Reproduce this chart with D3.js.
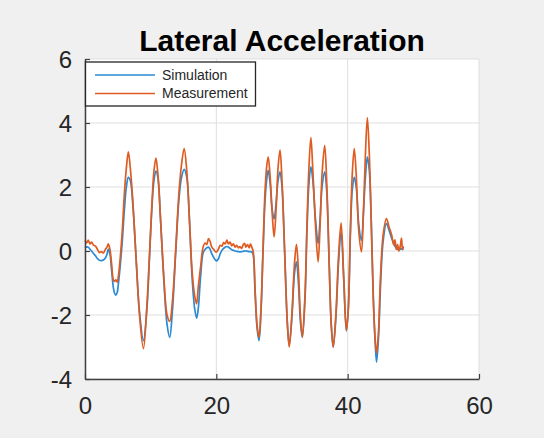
<!DOCTYPE html>
<html>
<head>
<meta charset="utf-8">
<script src="https://cdn.jsdelivr.net/npm/d3@7.9.0/dist/d3.min.js"></script>
<style>
  html, body { margin: 0; padding: 0; background: #f0f0f0; }
  svg { display: block; font-family: "Liberation Sans", Arial, sans-serif; }
</style>
</head>
<body>
<svg id="chart"></svg>
<script>
// time stamps (s) shared by both series
const timeS = [
  0, 0.25, 0.5, 0.75, 1.0, 1.3, 1.6, 1.9, 2.2, 2.5, 2.8, 3.1, 3.35, 3.55, 3.8, 4.05, 4.3, 4.5, 4.7, 4.9, 5.07,
  5.6, 6.0, 6.3, 6.6, 6.9, 7.3, 7.8, 8.3, 8.9, 9.4, 9.8, 10.2, 10.5, 10.8, 11.1, 11.5, 12.0, 12.5, 12.9, 13.3,
  13.8, 14.3, 14.7, 15.1, 15.5, 15.9, 16.3, 16.7, 17.0, 17.25, 17.6,
  18.0, 18.3, 18.55, 18.8, 19.05, 19.3, 19.6, 19.85, 20.05, 20.3, 20.6, 20.85, 21.1, 21.35, 21.6, 21.85, 22.1,
  22.35, 22.6, 22.85, 23.1, 23.35, 23.6, 23.85, 24.1, 24.3, 24.5, 24.75, 25.0, 25.2, 25.4,
  25.6, 25.9, 26.2, 26.5, 26.8, 27.1, 27.4, 27.65, 27.9, 28.2, 28.5, 28.8, 29.1, 29.4, 29.7, 30.0, 30.4, 30.8,
  31.1, 31.5, 31.9, 32.2, 32.5, 32.8, 33.1, 33.5, 33.8, 34.1, 34.4, 34.7, 35.1, 35.5, 35.8, 36.1, 36.5, 36.8,
  37.2, 37.5, 37.8, 38.2, 38.6, 39.0, 39.4, 39.8, 40.1, 40.4, 40.7, 41.0, 41.3, 41.7, 42.1, 42.4, 42.7, 43.0,
  43.3, 43.6, 43.9, 44.2, 44.4, 44.7, 45.0, 45.4, 45.9, 46.3, 46.7, 47.0, 47.2, 47.4, 47.6, 47.8, 48.0, 48.2,
  48.35, 48.5
];

const simulation = [
  0.10, 0.13, 0.12, 0.06, 0.0, -0.08, -0.15, -0.24, -0.29, -0.30, -0.28, -0.22, -0.1, 0.06, -0.1, -0.6, -1.12, -1.32, -1.38, -1.3, -1.05,
  0.1, 1.3, 2.0, 2.3, 2.2, 1.4, -0.3, -1.9, -2.8, -1.9, -0.3, 1.4, 2.2, 2.5, 2.3, 1.0, -0.9, -2.3, -2.7, -1.9,
  -0.1, 1.6, 2.3, 2.55, 2.3, 1.0, -0.8, -1.8, -2.1, -1.8, -0.8,
  -0.05, 0.05, 0.1, 0.12, 0.05, -0.08, -0.2, -0.28, -0.31, -0.25, -0.08, 0.02, 0.08, 0.12, 0.14, 0.12, 0.08,
  0.04, 0.02, 0.0, -0.01, -0.02, -0.03, -0.02, -0.01, 0.0, 0.0, -0.01, -0.02, -0.02, -0.03,
  -0.1, -1.3, -2.4, -2.8, -1.9, -0.1, 1.5, 2.2, 2.52, 2.1, 1.3, 1.0, 1.5, 2.2, 2.47, 2.0, 0.0, -2.2,
  -2.95, -2.1, -0.7, -0.34, -1.0, -2.2, -2.7, -1.5, 0.6, 2.1, 2.63, 2.2, 1.0, 0.24, 1.0, 2.0, 2.47, 1.9,
  -0.5, -2.3, -3.0, -2.1, -0.4, 0.6, -0.9, -2.5, -1.8, 0.4, 1.9, 2.31, 2.0, 0.8, 0.33, 1.2, 2.3, 2.94,
  2.5, 0.9, -1.4, -2.9, -3.47, -2.7, -1.1, 0.3, 0.86, 0.65, 0.4, 0.25, 0.15, 0.1, 0.05, 0.05, 0.05, 0.08,
  0.05, 0.05
];

const measurement = [
  0.33, 0.25, 0.34, 0.22, 0.28, 0.18, 0.15, 0.05, -0.05, -0.02, -0.06, 0.05, 0.12, 0.22, 0.05, -0.4, -0.88, -0.95, -0.9, -0.97, -0.81,
  0.4, 1.8, 2.6, 3.1, 2.6, 1.5, -0.3, -2.0, -3.05, -1.8, -0.2, 1.5, 2.5, 2.9, 2.4, 1.0, -0.8, -2.0, -2.2, -1.6,
  0.0, 1.8, 2.7, 3.2, 2.5, 1.0, -0.6, -1.4, -1.65, -1.12, -0.5,
  0.13, 0.25, 0.2, 0.39, 0.3, 0.12, 0.05, -0.02, -0.03, 0.05, 0.18, 0.15, 0.26, 0.22, 0.34, 0.22, 0.28,
  0.16, 0.22, 0.12, 0.18, 0.1, 0.14, 0.08, 0.2, 0.24, 0.12, 0.2, 0.1, 0.22, 0.12,
  0.0, -1.2, -2.3, -2.7, -1.8, 0.0, 1.8, 2.6, 2.94, 2.3, 1.2, 0.44, 1.3, 2.6, 3.15, 2.2, 0.0, -2.2,
  -3.0, -2.0, -0.4, 0.21, -0.6, -2.0, -2.69, -1.4, 0.8, 2.6, 3.54, 2.5, 0.8, -0.34, 0.8, 2.4, 3.3, 2.2,
  -0.5, -2.3, -3.0, -2.0, -0.2, 0.88, -0.8, -2.48, -1.8, 0.6, 2.4, 3.2, 2.4, 0.6, -0.03, 1.2, 3.0, 4.17,
  3.0, 0.8, -1.5, -2.8, -3.2, -2.5, -0.8, 0.5, 1.01, 0.75, 0.5, 0.2, 0.35, 0.05, 0.2, 0.0, 0.15, 0.4,
  0.05, 0.15
];

const xTicks = [0, 20, 40, 60];
const yTicks = [-4, -2, 0, 2, 4, 6];
const seriesNames = ['Simulation', 'Measurement'];
const seriesColors = ['#2a8ad4', '#de5c22'];

const width = 544;
const height = 438;
const plot = { left: 85, right: 479, top: 59, bottom: 379 };

const svg = d3.select('#chart')
    .attr('width', width)
    .attr('height', height);

svg.append('rect')
    .attr('width', width)
    .attr('height', height)
    .attr('fill', '#f0f0f0');

const x = d3.scaleLinear().domain([0, 60]).range([plot.left, plot.right]);
const y = d3.scaleLinear().domain([-4, 6]).range([plot.bottom, plot.top]);

// plot background
svg.append('rect')
    .attr('x', plot.left)
    .attr('y', plot.top)
    .attr('width', plot.right - plot.left)
    .attr('height', plot.bottom - plot.top)
    .attr('fill', 'white');

// grid
svg.append('g')
    .selectAll('line')
    .data(xTicks)
    .join('line')
    .attr('x1', d => x(d)).attr('x2', d => x(d))
    .attr('y1', plot.top).attr('y2', plot.bottom)
    .attr('stroke', '#dfdfdf')
    .attr('stroke-width', 1);

svg.append('g')
    .selectAll('line')
    .data(yTicks)
    .join('line')
    .attr('x1', plot.left).attr('x2', plot.right)
    .attr('y1', d => y(d)).attr('y2', d => y(d))
    .attr('stroke', '#dfdfdf')
    .attr('stroke-width', 1);

// the two series
const line = d3.line()
    .x(d => x(d[0]))
    .y(d => y(d[1]))
    .curve(d3.curveCatmullRom.alpha(0.5));

[simulation, measurement].forEach((vals, i) => {
    svg.append('path')
        .datum(timeS.map((t, j) => [t, vals[j]]))
        .attr('d', line)
        .attr('fill', 'none')
        .attr('stroke', seriesColors[i])
        .attr('stroke-width', 1.7)
        .attr('stroke-linejoin', 'round');
});

// axes: MATLAB style, inward ticks, plain hyphen for negatives
const fmt = d => String(d);
const xAxis = svg.append('g')
    .attr('transform', `translate(0, ${plot.bottom})`)
    .call(d3.axisBottom(x).tickValues(xTicks).tickFormat(fmt).tickSize(-5).tickSizeOuter(0).tickPadding(13));
const yAxis = svg.append('g')
    .attr('transform', `translate(${plot.left}, 0)`)
    .call(d3.axisLeft(y).tickValues(yTicks).tickFormat(fmt).tickSize(-5).tickSizeOuter(0).tickPadding(13));

[xAxis, yAxis].forEach(g => {
    g.select('.domain').attr('stroke', '#404040').attr('stroke-width', 1.5);
    g.selectAll('.tick line').attr('stroke', '#404040').attr('stroke-width', 1.2);
    g.selectAll('.tick text')
        .attr('fill', '#262626')
        .style('font-size', '24px')
        .style('font-family', '"Liberation Sans", Arial, sans-serif');
});
xAxis.selectAll('.tick text').attr('dy', '0.9em');
yAxis.selectAll('.tick text').attr('dy', '0.35em');

// title
svg.append('text')
    .attr('x', (plot.left + plot.right) / 2)
    .attr('y', 51)
    .attr('text-anchor', 'middle')
    .attr('font-weight', 'bold')
    .attr('font-size', 30)
    .attr('fill', '#000')
    .text('Lateral Acceleration');

// legend
const legend = svg.append('g');
legend.append('rect')
    .attr('x', 85.5)
    .attr('y', 62)
    .attr('width', 170)
    .attr('height', 44)
    .attr('fill', 'white')
    .attr('stroke', '#262626')
    .attr('stroke-width', 1.3);

seriesNames.forEach((name, i) => {
    const ly = 75 + i * 18.5;
    legend.append('line')
        .attr('x1', 95).attr('x2', 155)
        .attr('y1', ly).attr('y2', ly)
        .attr('stroke', seriesColors[i])
        .attr('stroke-width', 1.5);
    legend.append('text')
        .attr('x', 162)
        .attr('y', ly)
        .attr('dy', '0.35em')
        .attr('font-size', 14)
        .attr('fill', '#262626')
        .text(name);
});
</script>
</body>
</html>
